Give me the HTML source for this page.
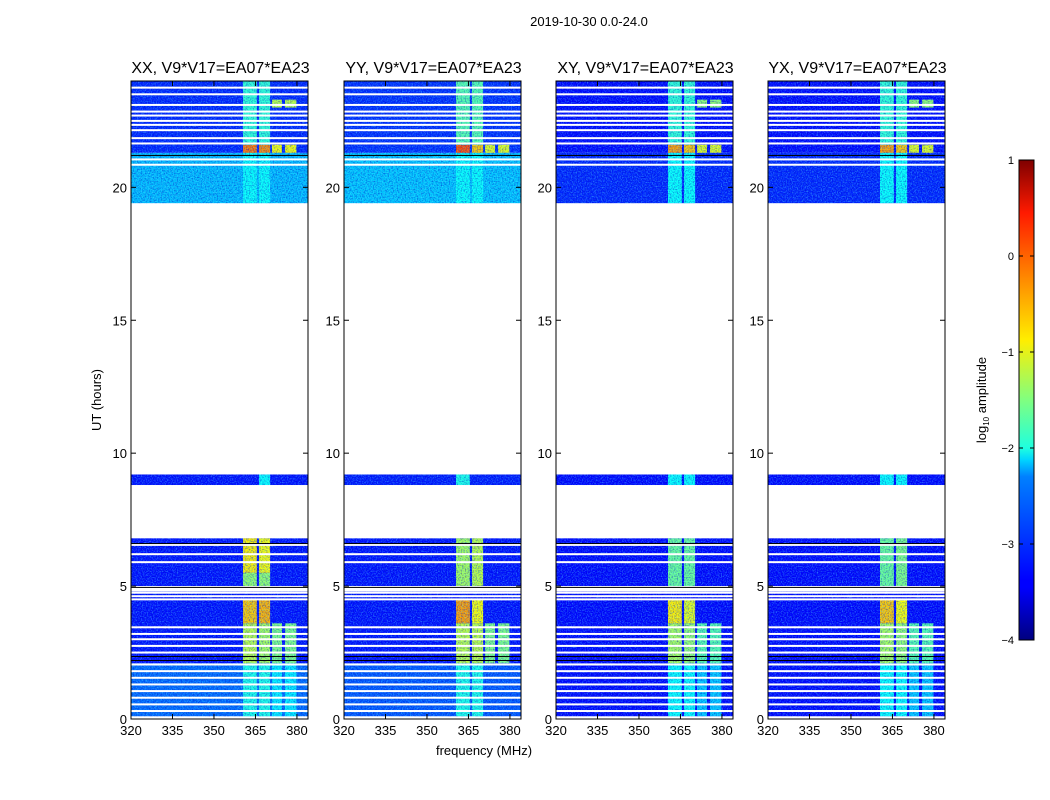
<!DOCTYPE html>
<html><head><meta charset="utf-8"><style>
html,body{margin:0;padding:0;background:#fff;}
svg{display:block;font-family:"Liberation Sans",sans-serif;}
</style></head><body>
<svg id="chart" width="1050" height="800" viewBox="0 0 1050 800">
<defs>
<filter id="noise" x="0" y="0" width="100%" height="100%">
<feTurbulence type="fractalNoise" baseFrequency="0.8" numOctaves="1" seed="3"/>
<feColorMatrix type="matrix" values="0 0 0 0 0.1  0 0 0 0 0.9  0 0 0 0 1  0 0 0 2.2 -0.95"/>
</filter>
<filter id="noise2" x="0" y="0" width="100%" height="100%">
<feTurbulence type="fractalNoise" baseFrequency="0.75" numOctaves="1" seed="9"/>
<feColorMatrix type="matrix" values="0 0 0 0 0  0 0 0 0 0  0 0 0 0 0.55  0 0 0 2.2 -0.95"/>
</filter>
<linearGradient id="jet" x1="0" y1="1" x2="0" y2="0">
<stop offset="0" stop-color="#00007f"/><stop offset="0.11" stop-color="#0000ff"/>
<stop offset="0.125" stop-color="#0000ff"/><stop offset="0.34" stop-color="#0080ff"/>
<stop offset="0.375" stop-color="#00d4ff"/><stop offset="0.4" stop-color="#1fffdf"/>
<stop offset="0.5" stop-color="#80ff80"/><stop offset="0.625" stop-color="#ffee00"/>
<stop offset="0.75" stop-color="#ff8c00"/><stop offset="0.89" stop-color="#ff1a00"/>
<stop offset="1" stop-color="#7f0000"/>
</linearGradient>
</defs>
<text x="589" y="26" text-anchor="middle" font-size="13">2019-10-30 0.0-24.0</text>
<text x="101" y="400" text-anchor="middle" font-size="13" transform="rotate(-90 101 400)">UT (hours)</text>
<text x="484" y="755" text-anchor="middle" font-size="13">frequency (MHz)</text>
<g id="panels"></g>
<g id="cbar">
<rect x="1019" y="160" width="15" height="480" fill="url(#jet)" stroke="#000" stroke-width="1"/>
<text x="986" y="400" text-anchor="middle" font-size="13" transform="rotate(-90 986 400)">log<tspan font-size="8" dy="3">10</tspan><tspan dy="-3"> amplitude</tspan></text>
</g>
</svg>
<script>
const NS="http://www.w3.org/2000/svg";
const panelTitles=["XX, V9*V17=EA07*EA23","YY, V9*V17=EA07*EA23","XY, V9*V17=EA07*EA23","YX, V9*V17=EA07*EA23"];
const yTicks=[0,5,10,15,20];
const xTicks=[320,335,350,365,380];
const cbTicks=[1,0,-1,-2,-3,-4];
// time blocks: [start hour, end hour, background log amplitude] per panel
const blocksXX=[[0.1,2.1,-2.85],[2.1,4.8,-3.3],[5.0,6.8,-3.3],[8.8,9.2,-3.3],[19.4,21.3,-2.45],[21.3,24,-3.2]];
const blocksYY=[[0.1,2.1,-2.95],[2.1,4.8,-3.3],[5.0,6.8,-3.3],[8.8,9.2,-3.25],[19.4,21.3,-2.4],[21.3,24,-3.15]];
const blocksXY=[[0.1,2.1,-3.35],[2.1,4.8,-3.35],[5.0,6.8,-3.35],[8.8,9.2,-3.35],[19.4,21.3,-3.2],[21.3,24,-3.35]];
const blocksYX=[[0.1,2.1,-3.35],[2.1,4.8,-3.35],[5.0,6.8,-3.35],[8.8,9.2,-3.35],[19.4,21.3,-3.2],[21.3,24,-3.35]];
// RFI channel ranges (MHz)
const rfiChannels=[[360.5,365.5],[366.3,370.3],[371,374.6],[375.7,379.8]];
// RFI features: [t0,t1,channel index,level] per panel
const rfiXX=[[0.1,2.1,0,-2.0],[0.1,2.1,1,-2.0],[0.1,2.1,2,-2.2],[0.1,2.1,3,-2.2],[2.1,3.6,0,-1.2],[2.1,3.6,1,-1.3],[2.1,3.6,2,-1.5],[2.1,3.6,3,-1.5],[3.6,4.5,0,-0.6],[3.6,4.5,1,-0.5],[5.0,5.5,0,-1.4],[5.0,5.5,1,-1.4],[5.5,6.8,0,-0.8],[5.5,6.8,1,-0.9],[8.8,9.2,1,-2.1],[19.4,21.3,0,-2.1],[19.4,21.3,1,-2.1],[21.3,21.6,0,-0.2],[21.3,21.6,1,-0.3],[21.3,21.6,2,-0.9],[21.3,21.6,3,-0.9],[21.6,24,0,-1.9],[21.6,24,1,-1.9],[23.0,23.3,2,-1.2],[23.0,23.3,3,-1.2]];
const rfiYY=[[0.1,2.1,0,-2.0],[0.1,2.1,1,-2.0],[2.1,3.6,0,-1.2],[2.1,3.6,1,-1.2],[2.1,3.6,2,-1.5],[2.1,3.6,3,-1.5],[3.6,4.5,0,-0.4],[3.6,4.5,1,-0.9],[5.0,6.8,0,-1.3],[5.0,6.8,1,-1.2],[8.8,9.2,0,-2.0],[19.4,21.3,0,-2.1],[19.4,21.3,1,-2.1],[21.3,21.6,0,0.0],[21.3,21.6,1,-0.6],[21.3,21.6,2,-1.0],[21.3,21.6,3,-1.0],[21.6,24,0,-1.7],[21.6,24,1,-1.7]];
const rfiXY=[[0.1,2.1,0,-2.1],[0.1,2.1,1,-2.1],[0.1,2.1,2,-2.4],[0.1,2.1,3,-2.4],[2.1,3.6,0,-1.3],[2.1,3.6,1,-1.4],[2.1,3.6,2,-1.7],[2.1,3.6,3,-1.7],[3.6,4.5,0,-0.8],[3.6,4.5,1,-1.0],[5.0,6.8,0,-1.6],[5.0,6.8,1,-1.6],[8.8,9.2,0,-2.1],[8.8,9.2,1,-2.1],[19.4,21.3,0,-2.1],[19.4,21.3,1,-2.1],[21.3,21.6,0,-0.4],[21.3,21.6,1,-0.6],[21.3,21.6,2,-1.0],[21.3,21.6,3,-1.0],[21.6,24,0,-1.9],[21.6,24,1,-1.9],[23.0,23.3,2,-1.4],[23.0,23.3,3,-1.4]];
const rfiYX=[[0.1,2.1,0,-2.1],[0.1,2.1,1,-2.1],[0.1,2.1,2,-2.4],[0.1,2.1,3,-2.4],[2.1,3.6,0,-1.3],[2.1,3.6,1,-1.4],[2.1,3.6,2,-1.7],[2.1,3.6,3,-1.7],[3.6,4.5,0,-0.6],[3.6,4.5,1,-0.9],[5.0,6.8,0,-1.6],[5.0,6.8,1,-1.5],[8.8,9.2,0,-2.1],[8.8,9.2,1,-2.1],[19.4,21.3,0,-2.1],[19.4,21.3,1,-2.1],[21.3,21.6,0,-0.4],[21.3,21.6,1,-0.6],[21.3,21.6,2,-1.0],[21.3,21.6,3,-1.0],[21.6,24,0,-1.9],[21.6,24,1,-1.9],[23.0,23.3,2,-1.4],[23.0,23.3,3,-1.4]];
// flagged (white) rows in hours
const gapRows=[0.3,0.55,0.8,1.05,1.3,1.55,1.8,2.05,2.5,2.75,3.0,3.2,3.45,4.5,4.62,4.75,4.9,5.9,6.2,6.55,21.05,21.65,21.85,22.15,22.35,22.5,22.7,22.85,23.1,23.5,23.75,20.85];
const blackRows=[2.2,2.35,6.6,4.95,21.2];
const panelBlocks=[blocksXX,blocksYY,blocksXY,blocksYX];
const panelRfi=[rfiXX,rfiYY,rfiXY,rfiYX];
const panelX=[131,344,556,768];
const PW=177, PT=81, PB=719;
const F0=320,F1=384,T0=0,T1=24;
function jet(v){let t=(v+4)/5;t=Math.max(0,Math.min(1,t));
 const c=x=>Math.round(255*Math.max(0,Math.min(1,x)));
 const r=c(Math.min(4*t-1.5,-4*t+4.5)),g=c(Math.min(4*t-0.5,-4*t+3.5)),b=c(Math.min(4*t+0.5,-4*t+2.5));
 return `rgb(${r},${g},${b})`;}
const yS=h=>PB-(h-T0)/(T1-T0)*(PB-PT);
const cbY=v=>640-(v+4)/5*480;
const root=document.getElementById('panels');
function mk(tag,attrs,parent){const e=document.createElementNS(NS,tag);for(const k in attrs)e.setAttribute(k,attrs[k]);parent.appendChild(e);return e;}
panelX.forEach((px,i)=>{
 const xS=f=>px+(f-F0)/(F1-F0)*PW;
 const g=mk('g',{},root);
 
 
 const hm=mk('g',{},g);
 
 
 panelBlocks[i].forEach(b=>{
  const r=mk('rect',{x:px,y:yS(b[1]),width:PW,height:yS(b[0])-yS(b[1]),fill:jet(b[2])},hm);
  
  
 });
 panelRfi[i].forEach(f=>{
  const ch=rfiChannels[f[2]];
  const r=mk('rect',{x:xS(ch[0]),y:yS(f[1]),width:xS(ch[1])-xS(ch[0]),height:yS(f[0])-yS(f[1]),fill:jet(f[3])},hm);
  
  
 });
 const nz=mk('rect',{x:px,y:PT,width:PW,height:PB-PT,filter:'url(#noise)',opacity:0.6},hm);
 
 
 const nz2=mk('rect',{x:px,y:PT,width:PW,height:PB-PT,filter:'url(#noise2)',opacity:0.6},hm);
 
 
 const bl=panelBlocks[i];
 const edges=[[T0,bl[0][0]]];
 for(let k=0;k<bl.length-1;k++){if(bl[k+1][0]>bl[k][1])edges.push([bl[k][1],bl[k+1][0]]);}
 edges.forEach(e=>{const r=mk('rect',{x:px,y:yS(e[1]),width:PW,height:yS(e[0])-yS(e[1]),fill:'#fff'},hm);
  
  });
 gapRows.forEach(t=>{const r=mk('rect',{x:px,y:yS(t)-1,width:PW,height:2,fill:'#fff'},hm);
  
  });
 blackRows.forEach(t=>{const r=mk('rect',{x:px,y:yS(t)-0.5,width:PW,height:1,fill:'#000'},hm);
  
  });
 const fr=mk('rect',{x:px,y:PT,width:PW,height:PB-PT,fill:'none',stroke:'#000','stroke-width':1},g);
 
 
 const tt=mk('text',{x:px+PW/2+1,y:73,'text-anchor':'middle','font-size':16},g);
 tt.textContent=panelTitles[i];
 
 
 yTicks.forEach(v=>{const y=yS(v);
  mk('line',{x1:px,x2:px+5,y1:y,y2:y,stroke:'#000'},g);
  mk('line',{x1:px+PW-5,x2:px+PW,y1:y,y2:y,stroke:'#000'},g);
  const t=mk('text',{x:px-4,y:y+5,'text-anchor':'end','font-size':13},g);
  t.textContent=v;
  
  });
 xTicks.forEach(v=>{const x=xS(v);
  mk('line',{x1:x,x2:x,y1:PB,y2:PB-5,stroke:'#000'},g);
  mk('line',{x1:x,x2:x,y1:PT,y2:PT+5,stroke:'#000'},g);
  const t=mk('text',{x:x,y:PB+16,'text-anchor':'middle','font-size':13},g);
  t.textContent=v;
  
  });
});
const cb=document.getElementById('cbar');
cbTicks.forEach(v=>{const y=cbY(v);
 mk('line',{x1:1019,x2:1023,y1:y,y2:y,stroke:'#000'},cb);
 mk('line',{x1:1030,x2:1034,y1:y,y2:y,stroke:'#000'},cb);
 const t=mk('text',{x:1014,y:y+4,'text-anchor':'end','font-size':11},cb);
 t.textContent=v<0?'\u2212'+(-v):String(v);
 
 });
</script>
</body></html>
